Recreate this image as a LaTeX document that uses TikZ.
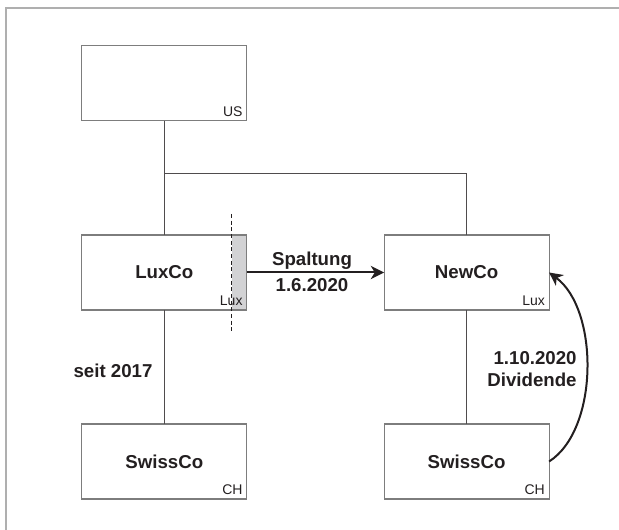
\documentclass[tikz,border=0pt]{standalone}
\usepackage{fontspec}
\setmainfont{Liberation Sans}
\usetikzlibrary{arrows.meta}

\definecolor{inkdark}{RGB}{35,31,32}
\definecolor{boxline}{RGB}{125,125,125}
\definecolor{frameline}{RGB}{175,175,175}
\definecolor{stripgray}{RGB}{210,210,212}

\tikzset{
  company/.style={draw=boxline, line width=0.9pt, minimum width=123.75pt,
    minimum height=56.25pt, inner sep=0pt, outer sep=0pt,
    font=\fontsize{14}{16}\selectfont\bfseries, text=inkdark},
  country/.style={anchor=south east, inner sep=0pt,
    font=\fontsize{10.5}{12}\selectfont, text=inkdark},
  holding/.style={draw=inkdark!80, line width=0.8pt},
  flow/.style={draw=inkdark, line width=1.5pt,
    -{Stealth[length=10pt,width=10pt,inset=3pt]}},
  note/.style={font=\fontsize{14}{16}\selectfont\bfseries, text=inkdark,
    inner sep=0pt, align=right}
}

\begin{document}
\begin{tikzpicture}[x=0.75pt,y=-0.75pt]
        \useasboundingbox (0,0) rectangle (619,530);
        % page frame, only top and left edge visible
        \draw[frameline, line width=1.2pt] (6,530) -- (6,8) -- (619,8);
        % grey strip on the right side of LuxCo
        \fill[stripgray] (231.7,235) rectangle (247,310);
        % companies
        \node[company] (usco)   at (164.3,83.2)  {};
        \node[company] (luxco)  at (164.3,272.5) {LuxCo};
        \node[company] (newco)  at (466.6,272.5) {NewCo};
        \node[company] (swissl) at (164.3,461.5) {SwissCo};
        \node[company] (swissr) at (466.6,461.5) {SwissCo};
        % country tags
        \node[country] (usland)     at ([shift={(-4,-4)}]usco.south east)   {US};
        \node[country] (luxland)    at ([shift={(-4,-4)}]luxco.south east)  {Lux};
        \node[country] (newland)    at ([shift={(-4,-4)}]newco.south east)  {Lux};
        \node[country] (swisslland) at ([shift={(-4,-4)}]swissl.south east) {CH};
        \node[country] (swissrland) at ([shift={(-4,-4)}]swissr.south east) {CH};
        % cut line through LuxCo
        \draw[inkdark, line width=0.7pt, dash pattern=on 3pt off 2pt]
              (231.7,214) -- (231.7,331);
        % shareholdings
        \coordinate (split) at (164.3,173.7);
        \draw[holding] (usco.south) -- (luxco.north);
        \draw[holding] (split) -| (newco.north);
        \draw[holding] (luxco.south) -- (swissl.north);
        \draw[holding] (newco.south) -- (swissr.north);
        % transactions
        \draw[flow] (luxco.east) -- (newco.east -| newco.west);
        \node[note, align=center] (spaltung) at (312,272) {Spaltung\\[3pt]1.6.2020};
        \draw[flow] (swissr.east) .. controls +(50,-32) and +(50,37) .. (newco.east);
        \node[note] (dividende) at (532,369) {1.10.2020\\[1pt]Dividende};
        \node[note] (seit) at (113,371) {seit 2017};
      \end{tikzpicture}
\end{document}
